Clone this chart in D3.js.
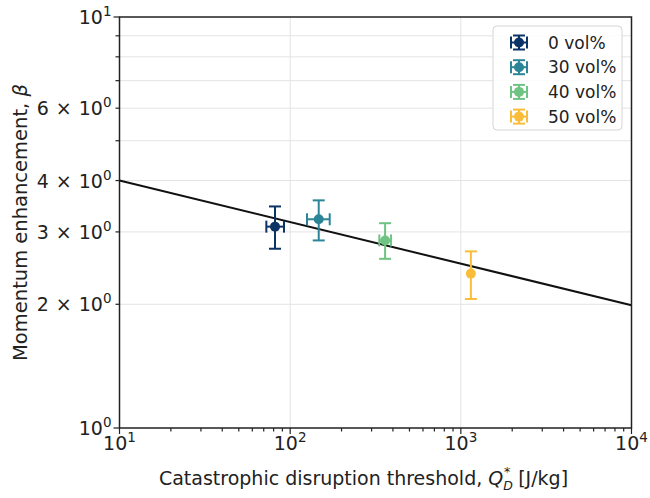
<!DOCTYPE html>
<html>
<head>
<meta charset="utf-8">
<script src="https://cdn.jsdelivr.net/npm/d3@7"></script>
<style>
  body { margin: 0; background: #fff; }
  text { font-family: "DejaVu Sans", sans-serif; fill: #222; }
</style>
</head>
<body>
<div id="chart"></div>
<script>
// donnees
var series = ["0 vol%", "30 vol%", "40 vol%", "50 vol%"];
var colors = ["#0b3366", "#2b8597", "#6fc383", "#f9bd3a"];
var qValues = [81.5, 147, 360, 1145];
var qLow = [72.5, 125.5, 333, 1145];
var qHigh = [92, 170.5, 390, 1145];
var betaValues = [3.09, 3.22, 2.86, 2.375];
var betaLow = [2.73, 2.86, 2.58, 2.06];
var betaHigh = [3.46, 3.58, 3.15, 2.69];

// droite d'ajustement
var fitQ = [10, 10000];
var fitBeta = [4.0, 1.99];

var xMajor = [10, 100, 1000, 10000];
var yLabelled = [1, 2, 3, 4, 6, 10];

var width = 650, height = 498;
var margin = { left: 119.5, right: 18.5, top: 17, bottom: 70 };

var svg = d3.select("#chart").append("svg")
    .attr("width", width)
    .attr("height", height);

var x = d3.scaleLog().domain([10, 10000]).range([margin.left, width - margin.right]);
var y = d3.scaleLog().domain([1, 10]).range([height - margin.bottom, margin.top]);

var x0 = x.range()[0], x1 = x.range()[1];
var y0 = y.range()[0], y1 = y.range()[1];

// minor ticks
var xMinor = [];
[10, 100, 1000].forEach(function(d) {
    for (var k = 2; k < 10; k++) xMinor.push(d * k);
});
var yMinor = [];
for (var k = 2; k < 10; k++) yMinor.push(k);

// grille
var grid = svg.append("g").attr("stroke", "#e3e3e3").attr("stroke-width", 1);
grid.selectAll(".gx").data([100, 1000]).enter().append("line")
    .attr("x1", d => x(d)).attr("x2", d => x(d))
    .attr("y1", y1).attr("y2", y0);
grid.selectAll(".gy").data(yMinor).enter().append("line")
    .attr("x1", x0).attr("x2", x1)
    .attr("y1", d => y(d)).attr("y2", d => y(d));

// droite
svg.append("line")
    .attr("x1", x(fitQ[0])).attr("y1", y(fitBeta[0]))
    .attr("x2", x(fitQ[1])).attr("y2", y(fitBeta[1]))
    .attr("stroke", "#111").attr("stroke-width", 2);

// barres d'erreur
function drawErrorBar(g, cx, cy, xl, xh, yl, yh, color) {
    var cap = 6;
    g.append("line").attr("x1", cx).attr("x2", cx).attr("y1", yl).attr("y2", yh)
        .attr("stroke", color).attr("stroke-width", 2);
    g.append("line").attr("x1", cx - cap).attr("x2", cx + cap).attr("y1", yl).attr("y2", yl)
        .attr("stroke", color).attr("stroke-width", 2);
    g.append("line").attr("x1", cx - cap).attr("x2", cx + cap).attr("y1", yh).attr("y2", yh)
        .attr("stroke", color).attr("stroke-width", 2);
    if (xh - xl > 1) {
        g.append("line").attr("x1", xl).attr("x2", xh).attr("y1", cy).attr("y2", cy)
            .attr("stroke", color).attr("stroke-width", 2);
        g.append("line").attr("x1", xl).attr("x2", xl).attr("y1", cy - cap).attr("y2", cy + cap)
            .attr("stroke", color).attr("stroke-width", 2);
        g.append("line").attr("x1", xh).attr("x2", xh).attr("y1", cy - cap).attr("y2", cy + cap)
            .attr("stroke", color).attr("stroke-width", 2);
    }
    g.append("circle").attr("cx", cx).attr("cy", cy).attr("r", 5).attr("fill", color);
}

series.forEach(function(s, i) {
    var g = svg.append("g");
    drawErrorBar(g, x(qValues[i]), y(betaValues[i]), x(qLow[i]), x(qHigh[i]),
        y(betaLow[i]), y(betaHigh[i]), colors[i]);
});

// cadre
svg.append("rect")
    .attr("x", x0).attr("y", y1)
    .attr("width", x1 - x0).attr("height", y0 - y1)
    .attr("fill", "none").attr("stroke", "#222").attr("stroke-width", 1.5);

// ticks
var ticks = svg.append("g").attr("stroke", "#222").attr("stroke-width", 1.2);
ticks.selectAll(".xM").data(xMajor).enter().append("line")
    .attr("x1", d => x(d)).attr("x2", d => x(d)).attr("y1", y0).attr("y2", y0 + 6);
ticks.selectAll(".xm").data(xMinor).enter().append("line")
    .attr("x1", d => x(d)).attr("x2", d => x(d)).attr("y1", y0).attr("y2", y0 + 3.5);
ticks.selectAll(".yM").data([1, 10]).enter().append("line")
    .attr("x1", x0 - 6).attr("x2", x0).attr("y1", d => y(d)).attr("y2", d => y(d));
ticks.selectAll(".ym").data(yMinor).enter().append("line")
    .attr("x1", x0 - 4).attr("x2", x0).attr("y1", d => y(d)).attr("y2", d => y(d));

var tickSize = "19px", supSize = "13.5px";

// labels de ticks x
svg.selectAll(".xl").data(xMajor).enter().append("text")
    .attr("x", d => x(d))
    .attr("y", y0 + 22)
    .attr("text-anchor", "middle")
    .style("font-size", tickSize)
    .each(function(d) {
        var t = d3.select(this);
        t.append("tspan").text("10");
        t.append("tspan").attr("dy", -8).style("font-size", supSize).text(Math.round(Math.log10(d)));
    });

// labels de ticks y
svg.selectAll(".yl").data(yLabelled).enter().append("text")
    .attr("x", x0 - 8)
    .attr("y", d => y(d) + 7)
    .attr("text-anchor", "end")
    .style("font-size", tickSize)
    .each(function(d) {
        var t = d3.select(this);
        var e = Math.floor(Math.log10(d) + 1e-9);
        var m = Math.round(d / Math.pow(10, e));
        if (m === 1) {
            t.append("tspan").text("10");
        } else {
            t.append("tspan").text(m + " ");
            t.append("tspan").attr("dx", 1).text("\u00d7");
            t.append("tspan").attr("dx", 1).text(" 10");
        }
        t.append("tspan").attr("dy", -8).style("font-size", supSize).text(e);
    });

// titres des axes
var xt = svg.append("text")
    .attr("x", (x0 + x1) / 2 - 12)
    .attr("y", 485)
    .attr("text-anchor", "middle")
    .style("font-size", "19px");
xt.append("tspan").text("Catastrophic disruption threshold, ");
xt.append("tspan").style("font-style", "italic").text("Q");
xt.append("tspan").attr("dy", 5).style("font-size", "12.5px").style("font-style", "italic").text("D");
xt.append("tspan").attr("dy", -14).attr("dx", -9).style("font-size", "12.5px").text("*");
xt.append("tspan").attr("dy", 9).attr("dx", 2).text(" [J/kg]");

var yt = svg.append("text")
    .attr("transform", "translate(27," + ((y0 + y1) / 2) + ") rotate(-90)")
    .attr("text-anchor", "middle")
    .style("font-size", "19.5px");
yt.append("tspan").text("Momentum enhancement, ");
yt.append("tspan").style("font-style", "italic").text("\u03b2");

// legende
var lg = svg.append("g").attr("transform", "translate(493,26)");
lg.append("rect")
    .attr("width", 129).attr("height", 104).attr("rx", 4)
    .attr("fill", "#fff").attr("fill-opacity", 0.85)
    .attr("stroke", "#d5d5d5").attr("stroke-width", 1);
series.forEach(function(s, i) {
    var ly = 16.5 + i * 24.7;
    var g = lg.append("g");
    var cx = 26;
    drawErrorBar(g, cx, ly, cx - 8, cx + 8, ly + 7, ly - 7, colors[i]);
    lg.append("text")
        .attr("x", 55).attr("y", ly + 6)
        .style("font-size", "17px")
        .text(s);
});
</script>
</body>
</html>
